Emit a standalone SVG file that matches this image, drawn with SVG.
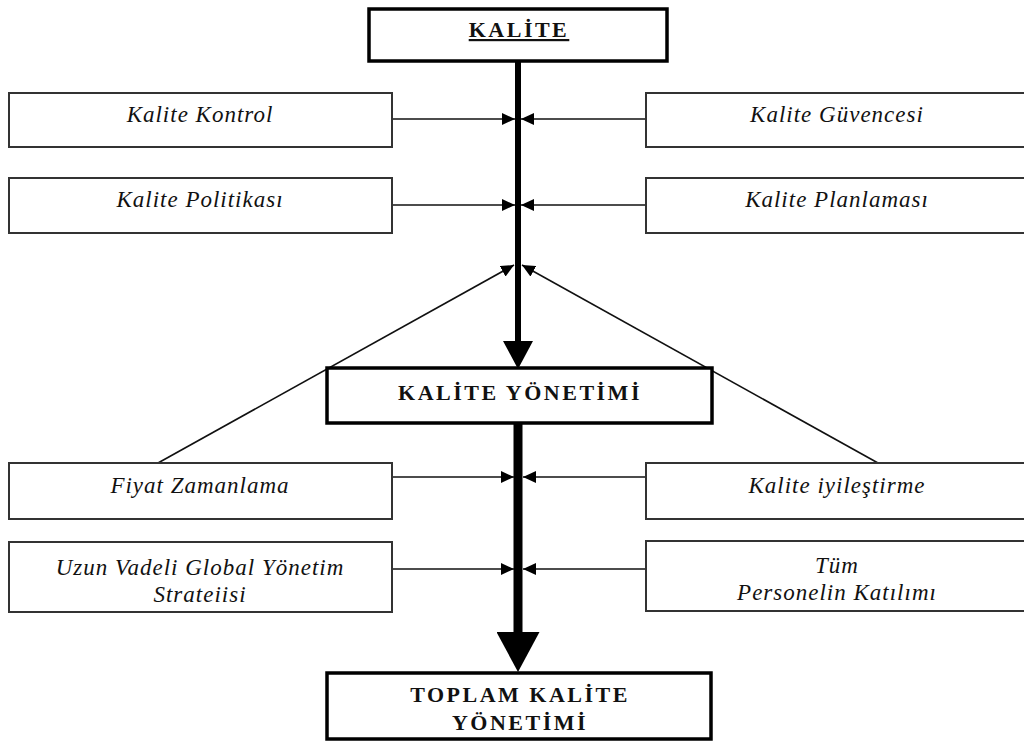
<svg xmlns="http://www.w3.org/2000/svg" width="1024" height="742" viewBox="0 0 1024 742">
  <style>
    .box { fill: #fff; stroke: #333; stroke-width: 2; }
    .main { fill: #fff; stroke: #000; stroke-width: 3.5; }
    .lbl { font-family: "Liberation Serif", "Times New Roman", serif; font-style: italic; font-size: 23px; letter-spacing: 1px; fill: #111; text-anchor: middle; }
    .head { font-family: "Liberation Serif", "Times New Roman", serif; font-weight: bold; font-size: 22px; letter-spacing: 2.5px; fill: #111; text-anchor: middle; }
    .thin { stroke: #111; stroke-width: 1.6; fill: none; }
    .spine { stroke: #000; fill: none; }
  </style>
  <defs>
    <marker id="tip" viewBox="0 0 13 12" refX="13" refY="6" markerWidth="13" markerHeight="12" markerUnits="userSpaceOnUse" orient="auto">
      <path d="M0,0 L13,6 L0,12 Z" fill="#000"/>
    </marker>
    <marker id="bigA" viewBox="0 0 28 30" refX="0" refY="15" markerWidth="28" markerHeight="30" markerUnits="userSpaceOnUse" orient="auto">
      <path d="M0,0 L28,15 L0,30 Z" fill="#000"/>
    </marker>
    <marker id="bigB" viewBox="0 0 40 43" refX="0" refY="21.5" markerWidth="40" markerHeight="43" markerUnits="userSpaceOnUse" orient="auto">
      <path d="M0,0 L40,21.5 L0,43 Z" fill="#000"/>
    </marker>
  </defs>

  <!-- connectors -->
  <g id="connectors">
    <!-- main spine -->
    <path class="spine" stroke-width="6" d="M518,61 L518,341" marker-end="url(#bigA)"/>
    <path class="spine" stroke-width="9" d="M518,423 L518,632" marker-end="url(#bigB)"/>
    <!-- upper side inputs -->
    <path class="thin" d="M392,119 L515,119" marker-end="url(#tip)"/>
    <path class="thin" d="M646,119 L521,119" marker-end="url(#tip)"/>
    <path class="thin" d="M392,205 L515,205" marker-end="url(#tip)"/>
    <path class="thin" d="M646,205 L521,205" marker-end="url(#tip)"/>
    <!-- diagonals from lower boxes -->
    <path class="thin" d="M158,463 L514,265" marker-end="url(#tip)"/>
    <path class="thin" d="M878,463 L522,265" marker-end="url(#tip)"/>
    <!-- lower side inputs -->
    <path class="thin" d="M392,477 L514,477" marker-end="url(#tip)"/>
    <path class="thin" d="M646,477 L523,477" marker-end="url(#tip)"/>
    <path class="thin" d="M392,569 L514,569" marker-end="url(#tip)"/>
    <path class="thin" d="M646,569 L523,569" marker-end="url(#tip)"/>
  </g>

  <g id="kalite">
    <rect class="main" x="369" y="9" width="298" height="52"/>
    <text class="head" x="519" y="37" text-decoration="underline">KALİTE</text>
  </g>

  <g id="kalite-kontrol">
    <rect class="box" x="9" y="93" width="383" height="54"/>
    <text class="lbl" x="200" y="122">Kalite Kontrol</text>
  </g>
  <g id="kalite-guvencesi">
    <rect class="box" x="646" y="93" width="383" height="54"/>
    <text class="lbl" x="837" y="122">Kalite Güvencesi</text>
  </g>
  <g id="kalite-politikasi">
    <rect class="box" x="9" y="178" width="383" height="55"/>
    <text class="lbl" x="200" y="207">Kalite Politikası</text>
  </g>
  <g id="kalite-planlamasi">
    <rect class="box" x="646" y="178" width="383" height="55"/>
    <text class="lbl" x="837" y="207">Kalite Planlaması</text>
  </g>

  <g id="kalite-yonetimi">
    <rect class="main" x="327" y="368" width="385" height="55"/>
    <text class="head" x="520" y="400">KALİTE YÖNETİMİ</text>
  </g>

  <g id="fiyat-zamanlama">
    <rect class="box" x="9" y="463" width="383" height="56"/>
    <text class="lbl" x="200" y="493">Fiyat Zamanlama</text>
  </g>
  <g id="kalite-iyilestirme">
    <rect class="box" x="646" y="463" width="383" height="56"/>
    <text class="lbl" x="837" y="493">Kalite iyileştirme</text>
  </g>
  <g id="global-yonetim">
    <rect class="box" x="9" y="542" width="383" height="70"/>
    <text class="lbl" x="200" y="575">Uzun Vadeli Global Yönetim</text>
    <text class="lbl" x="200" y="602">Strateiisi</text>
  </g>
  <g id="personel-katilimi">
    <rect class="box" x="646" y="541" width="383" height="70"/>
    <text class="lbl" x="837" y="573">Tüm</text>
    <text class="lbl" x="837" y="600">Personelin Katılımı</text>
  </g>

  <g id="toplam-kalite-yonetimi">
    <rect class="main" x="327" y="673" width="384" height="66"/>
    <text class="head" x="520" y="702">TOPLAM KALİTE</text>
    <text class="head" x="520" y="730">YÖNETİMİ</text>
  </g>
</svg>
